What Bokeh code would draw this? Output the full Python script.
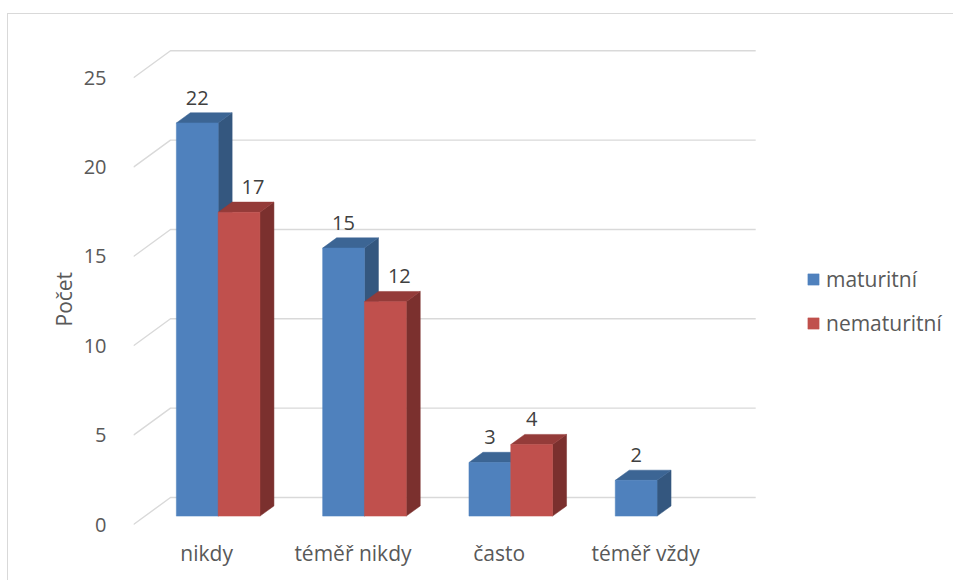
import numpy as np
from bokeh.plotting import figure
from bokeh.models import (Range1d, LinearAxis, FixedTicker, Legend, LegendItem, Title)
from bokeh.core.properties import value
from bokeh.embed import file_html
from bokeh.resources import INLINE

# ---------------- data ----------------
categories = ["nikdy", "téměř nikdy", "často", "téměř vždy"]
series_names = ["maturitní", "nematuritní"]
maturitni = [22, 15, 3, 2]
nematuritni = [17, 12, 4, None]
y_ticks = [0, 5, 10, 15, 20, 25]
y_axis_title = "Počet"

# ---------------- geometry / style (page pixels) ----------------
W, H = 954, 581
OX, OY = 8, 14                # chart border offset (left / top)
FRAME_L, FRAME_R, FRAME_T, FRAME_B = 133, 954, 40, 526
ZERO_PX = 524                 # front floor line (value 0)
PX_X = 146.3                  # pixels per category
PX_Y = 17.87                  # pixels per value unit
DDX = 37 / PX_X               # full floor depth (data units)
DDY = 27 / PX_Y
F1, F2 = 0.311, 0.689         # bar front / back depth fractions
BW = 1 / 3.5                  # bar width (gap width 150%)
GAP = 1.5 * BW

FONT = "Open Sans"
GRID_C = "#d9d9d9"
TXT_C = "#595959"
LBL_C = "#404040"
colors = {
    "maturitní": ("#4F81BD", "#3C6594", "#34577F"),
    "nematuritní": ("#C0504D", "#943B39", "#7B302E"),
}

x_end = (FRAME_R - FRAME_L) / PX_X
y_start = -(FRAME_B - ZERO_PX) / PX_Y
y_end = (ZERO_PX - FRAME_T) / PX_Y

p = figure(width=W - OX, height=H - OY, output_backend="svg", toolbar_location=None,
           x_range=Range1d(0, x_end), y_range=Range1d(y_start, y_end),
           x_axis_type=None, y_axis_type=None,
           min_border_left=FRAME_L - OX, min_border_right=W - FRAME_R,
           min_border_top=FRAME_T - OY, min_border_bottom=H - FRAME_B)
p.grid.visible = False
p.outline_line_color = None
p.background_fill_color = "white"
p.border_fill_color = "white"
p.styles = {"position": "absolute", "left": f"{OX - 1}px", "top": f"{OY - 1}px",
            "border-left": f"1px solid {GRID_C}", "border-top": f"1px solid {GRID_C}"}

# gridlines (left wall diagonal + back wall horizontal)
n = len(categories)
gx, gy = [], []
for t in y_ticks:
    gx.append([0, DDX, n + DDX])
    gy.append([t, t + DDY, t + DDY])
p.multi_line(gx, gy, line_color=GRID_C, line_width=1.4)

# bars
ox1, oy1 = F1 * DDX, F1 * DDY
ox2, oy2 = F2 * DDX, F2 * DDY
series_vals = [maturitni, nematuritni]
legend_items = []
lab_x, lab_y, lab_t = [], [], []
for s, (name, vals) in enumerate(zip(series_names, series_vals)):
    front_c, top_c, side_c = colors[name]
    fl, fr, fb, ft = [], [], [], []
    txs, tys, sxs, sys_ = [], [], [], []
    for i, v in enumerate(vals):
        if v is None:
            continue
        xl = i + GAP / 2 + s * BW
        xr = xl + BW
        fl.append(xl + ox1); fr.append(xr + ox1)
        fb.append(oy1); ft.append(v + oy1)
        txs.append([xl + ox1, xr + ox1, xr + ox2, xl + ox2])
        tys.append([v + oy1, v + oy1, v + oy2, v + oy2])
        sxs.append([xr + ox1, xr + ox2, xr + ox2, xr + ox1])
        sys_.append([oy1, oy2, v + oy2, v + oy1])
        shift = 0
        if s == 1 and maturitni[i] is not None and maturitni[i] > v:
            shift = ox2 - ox1
        lab_x.append((xl + xr) / 2 + ox1 + shift)
        lab_y.append(v + oy2 + 15 / PX_Y)
        lab_t.append(str(v))
    p.patches(sxs, sys_, fill_color=side_c, line_color=side_c, line_width=0.5)
    p.patches(txs, tys, fill_color=top_c, line_color=top_c, line_width=0.5)
    r = p.quad(left=fl, right=fr, bottom=fb, top=ft,
               fill_color=front_c, line_color=front_c, line_width=0.5)
    legend_items.append(LegendItem(label=name, renderers=[r]))

p.text(lab_x, lab_y, text=lab_t, text_align="center", text_baseline="middle",
       text_font=value(FONT), text_font_size="20px", text_color=LBL_C)

# y axis (front plane)
yax = LinearAxis(ticker=FixedTicker(ticks=y_ticks))
yax.axis_line_color = None
yax.major_tick_line_color = None
yax.minor_tick_line_color = None
yax.major_label_standoff = 21
yax.major_label_text_font = FONT
yax.major_label_text_font_size = "20px"
yax.major_label_text_color = TXT_C
p.add_layout(yax, "left")

# x axis (category labels)
xt = [i + 0.5 for i in range(n)]
xax = LinearAxis(ticker=FixedTicker(ticks=xt),
                 major_label_overrides={t: c for t, c in zip(xt, categories)})
xax.axis_line_color = None
xax.major_tick_line_color = None
xax.minor_tick_line_color = None
xax.major_label_standoff = 6
xax.major_label_text_font = FONT
xax.major_label_text_font_size = "21px"
xax.major_label_text_color = TXT_C
p.add_layout(xax, "below")

# y axis title
ttl = Title(text=y_axis_title, align="left", offset=200, standoff=5,
            text_font=FONT, text_font_size="21px", text_font_style="normal",
            text_color=TXT_C)
p.add_layout(ttl, "left")

# legend
leg = Legend(items=legend_items, location=(806 - FRAME_L, FRAME_B - 337),
             glyph_width=14, glyph_height=14, label_height=20, spacing=16,
             padding=0, margin=0, label_standoff=6,
             label_text_font=FONT, label_text_font_size="21px",
             label_text_color=TXT_C, border_line_color=None,
             background_fill_alpha=0)
p.add_layout(leg)

open("out.html", "w").write(file_html(p, INLINE))
